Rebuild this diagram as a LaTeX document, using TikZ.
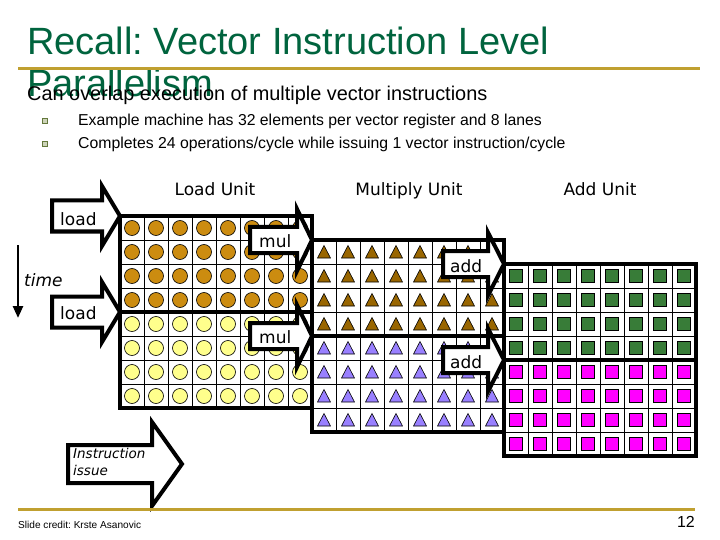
\documentclass[tikz,border=0pt]{standalone}
\usepackage{fontspec}
\setmainfont{Liberation Sans}
\newfontfamily\verd{DejaVu Sans}
\usetikzlibrary{arrows.meta, positioning}
\frenchspacing

\definecolor{titlegreen}{RGB}{0,100,62}
\definecolor{rulegold}{RGB}{192,160,48}
\definecolor{ldgold}{RGB}{204,140,16}
\definecolor{ldyellow}{RGB}{255,255,140}
\definecolor{mulbrown}{RGB}{153,102,0}
\definecolor{mulviolet}{RGB}{153,128,255}
\definecolor{addgreen}{RGB}{56,124,56}
\definecolor{addpink}{RGB}{255,0,255}
\definecolor{bulletline}{RGB}{100,120,60}
\definecolor{bulletfill}{RGB}{205,212,185}

% block arrow: tip, body length, head length, body half height, head half height
\newcommand{\blockarrow}[5]{%
  \draw[issuearrow] (#1) -- ++(-#3,-#5) -- ++(0,#5-#4) -- ++(-#2,0) -- ++(0,2*#4)
    -- ++(#2,0) -- ++(0,#5-#4) -- cycle;}

% 8x8 register grid, lines only
\newcommand{\lanegrid}[2]{%
  \foreach \k in {1,...,7} {
    \draw[cellline] (#1+24*\k,#2) -- (#1+24*\k,#2+192);
    \draw[cellline] (#1,#2+24*\k) -- (#1+192,#2+24*\k);
  }
  \draw[regframe] (#1,#2) rectangle (#1+192,#2+192);
  \draw[regframe] (#1,#2+96) -- (#1+192,#2+96);}

\tikzset{
  cellline/.style={black, line width=0.8pt},
  regframe/.style={black, line width=4pt},
  issuearrow/.style={draw=black, fill=white, line width=4pt, line join=miter},
  unitlabel/.style={font=\verd\fontsize{17}{20}\selectfont, inner sep=0pt, anchor=base},
  oplabel/.style={font=\verd\fontsize{17}{20}\selectfont, inner sep=0pt, anchor=west},
  ldcirc/.style={draw=black, line width=0.6pt, circle, minimum size=15pt, inner sep=0pt},
  multri/.style={draw=black, line width=0.6pt, line join=miter},
  addsq/.style={draw=black, line width=0.6pt, minimum size=12.5pt, inner sep=0pt},
  bulletsq/.style={draw=bulletline, fill=bulletfill, line width=1pt, minimum size=5pt, inner sep=0pt},
  rulegoldline/.style={rulegold, line width=3pt},
}

\begin{document}
\begin{tikzpicture}[x=1pt, y=-1pt]
    \useasboundingbox[fill=white] (0,0) rectangle (720,540);

    % title and rules
    \node[anchor=base west, inner sep=0pt, text=titlegreen, font=\fontsize{38}{42}\selectfont] (title) at (27,55) {Recall: Vector Instruction Level};
    \node[anchor=base west, inner sep=0pt, text=titlegreen, font=\fontsize{38}{42}\selectfont] (title2) at (27,97) {Parallelism};
    \coordinate (rt0) at (18,69);
    \coordinate (rt1) at (700,69);
    \draw[rulegoldline] (rt0) -- (rt1);
    \node[anchor=base west, inner sep=0pt, font=\fontsize{19.9}{22}\selectfont] (sub) at (27,101) {Can overlap execution of multiple vector instructions};
    \node[bulletsq] (b1) at (45,121) {};
    \node[bulletsq] (b2) at (45,144) {};
    \node[anchor=base west, inner sep=0pt, font=\fontsize{15.8}{18}\selectfont] (pt1) at (78,126) {Example machine has 32 elements per vector register and 8 lanes};
    \node[anchor=base west, inner sep=0pt, font=\fontsize{15.8}{18}\selectfont] (pt2) at (78,149) {Completes 24 operations/cycle while issuing 1 vector instruction/cycle};

    % unit headings
    \node[unitlabel] (ldunit) at (215,196) {Load Unit};
    \node[unitlabel] (mulunit) at (409,196) {Multiply Unit};
    \node[unitlabel] (addunit) at (600,196) {Add Unit};

    % load unit register: circles
    \foreach \r in {0,...,7}
      \foreach \c in {0,...,7} {
        \ifnum\r<4 \def\fc{ldgold}\else \def\fc{ldyellow}\fi
        \node[ldcirc, fill=\fc] (ld\r\c) at (132+24*\c,228+24*\r) {};
      }
    \lanegrid{120}{216}

    % multiply unit register: triangles
    \foreach \r in {0,...,7}
      \foreach \c in {0,...,7} {
        \ifnum\r<4 \def\fc{mulbrown}\else \def\fc{mulviolet}\fi
        \draw[multri, fill=\fc] (317.5+24*\c,258+24*\r) -- (324+24*\c,245.5+24*\r) -- (330.5+24*\c,258+24*\r) -- cycle;
      }
    \lanegrid{312}{240}

    % add unit register: squares
    \foreach \r in {0,...,7}
      \foreach \c in {0,...,7} {
        \ifnum\r<4 \def\fc{addgreen}\else \def\fc{addpink}\fi
        \node[addsq, fill=\fc] (ad\r\c) at (516+24*\c,276+24*\r) {};
      }
    \lanegrid{504}{264}

    % issue arrows
    \coordinate (ldtip1) at (120,216);
    \coordinate (ldtip2) at (120,312);
    \coordinate (multip1) at (312,240);
    \coordinate (multip2) at (312,336);
    \coordinate (addtip1) at (504,264);
    \coordinate (addtip2) at (504,360);
    \blockarrow{ldtip1}{50}{18}{15.5}{30}
    \blockarrow{ldtip2}{50}{18}{15.5}{30}
    \blockarrow{multip1}{47}{15}{13}{31}
    \blockarrow{multip2}{47}{15}{13}{31}
    \blockarrow{addtip1}{45}{16}{13}{31.5}
    \blockarrow{addtip2}{45}{16}{13}{31.5}
    \node[oplabel] (ldop1) at (60,219) {load};
    \node[oplabel] (ldop2) at (60,313) {load};
    \node[oplabel] (mulop1) at (259,241) {mul};
    \node[oplabel] (mulop2) at (259,337) {mul};
    \node[oplabel] (addop1) at (450,266) {add};
    \node[oplabel] (addop2) at (450,362) {add};

    % time axis
    \coordinate (t0) at (18,245);
    \coordinate (t1) at (18,318);
    \draw[line width=2.5pt, -{Triangle[length=12pt, width=10pt]}] (t0) -- (t1);
    \node[anchor=west, inner sep=0pt, font=\verd\itshape\fontsize{17}{20}\selectfont] (timelbl) at (24,280) {time};

    % instruction issue
    \coordinate (isstip) at (182,464);
    \blockarrow{isstip}{84}{30}{19}{42}
    \node[anchor=north west, inner sep=0pt, align=left, font=\verd\itshape\fontsize{13.5}{17}\selectfont] (isslbl) at (73,448) {Instruction\\issue};

    % footer
    \coordinate (rb0) at (18,509);
    \coordinate (rb1) at (695,509);
    \draw[rulegoldline] (rb0) -- (rb1);
    \node[anchor=base west, inner sep=0pt, font=\fontsize{10.1}{12}\selectfont] (credit) at (18,528) {Slide credit: Krste Asanovic};
    \node[anchor=base east, inner sep=0pt, font=\fontsize{16}{18}\selectfont] (pgno) at (695,527) {12};
\end{tikzpicture}
\end{document}
